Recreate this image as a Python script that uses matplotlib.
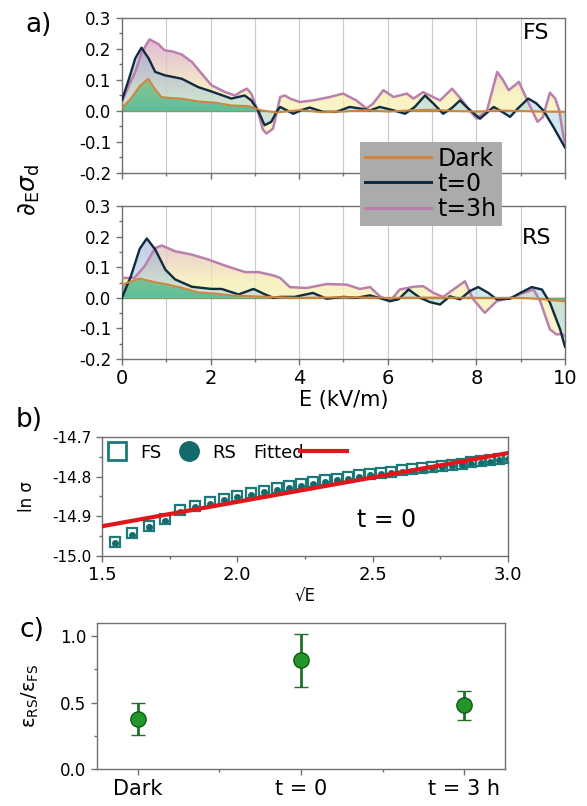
import numpy as np
import matplotlib
matplotlib.use("Agg")
import matplotlib.pyplot as plt
from matplotlib.colors import LinearSegmentedColormap
from matplotlib.lines import Line2D

plt.rcParams['font.family'] = ['DejaVu Sans']
plt.rcParams['axes.unicode_minus'] = False
plt.rcParams['mathtext.fontset'] = 'dejavusans'

# ---- panel a data ----
fs_3h_E = [0.0, 0.15, 0.3, 0.45, 0.62, 0.81, 0.96, 1.14, 1.35, 1.58, 1.8, 2.02, 2.33, 2.55,
           2.72, 2.82, 2.92, 3.07, 3.18, 3.26, 3.41, 3.5, 3.57, 3.68, 3.79, 4.01, 4.31, 4.69,
           4.99, 5.29, 5.52, 5.67, 5.9, 6.13, 6.43, 6.58, 6.8, 6.95, 7.18, 7.45, 7.68, 7.85,
           8.01, 8.24, 8.47, 8.6, 8.73, 8.96, 9.15, 9.38, 9.5, 9.66, 9.78, 9.87, 9.95, 10.0]
fs_3h = [0.03, 0.08, 0.126, 0.19, 0.231, 0.217, 0.196, 0.192, 0.182, 0.158, 0.12, 0.083, 0.061, 0.05,
         0.065, 0.072, 0.056, -0.003, -0.06, -0.073, -0.057, 0.0, 0.045, 0.05, 0.04, 0.029, 0.034, 0.045,
         0.056, 0.034, 0.008, 0.024, 0.067, 0.045, 0.056, 0.04, 0.061, 0.05, 0.034, 0.072, 0.034, 0.0,
         -0.025, 0.002, 0.126, 0.1, 0.067, 0.094, 0.034, -0.035, -0.02, 0.059, 0.04, 0.002, -0.07, -0.105]

fs_t0_E = [0.0, 0.15, 0.3, 0.44, 0.6, 0.75, 0.97, 1.35, 1.72, 2.02, 2.47, 2.77, 2.92, 3.07, 3.22,
           3.37, 3.5, 3.57, 3.68, 3.87, 4.05, 4.24, 4.54, 4.84, 5.14, 5.37, 5.6, 5.82, 6.13, 6.39,
           6.61, 6.84, 7.03, 7.25, 7.45, 7.63, 7.78, 8.08, 8.39, 8.55, 8.76, 8.95, 9.17, 9.35,
           9.51, 9.74, 9.87, 10.0]
fs_t0 = [0.035, 0.1, 0.17, 0.204, 0.17, 0.126, 0.115, 0.104, 0.077, 0.063, 0.04, 0.05, 0.034, 0.002, -0.046,
         -0.035, 0.0, 0.013, 0.005, -0.009, 0.003, 0.011, -0.003, -0.003, 0.013, 0.008, 0.002, 0.013, 0.002, -0.009,
         0.013, 0.05, 0.024, -0.009, 0.01, 0.034, 0.013, -0.025, 0.013, 0.0, -0.019, 0.01, 0.04, 0.025,
         0.002, -0.052, -0.085, -0.118]

fs_dark_E = [0.0, 0.2, 0.4, 0.59, 0.75, 0.89, 1.1, 1.35, 1.72, 2.1, 2.47, 2.85, 3.15, 3.5, 4.0,
             4.5, 5.0, 5.5, 6.0, 6.5, 7.0, 7.5, 8.0, 8.5, 9.0, 9.5, 10.0]
fs_dark = [0.01, 0.04, 0.08, 0.104, 0.07, 0.045, 0.042, 0.04, 0.031, 0.027, 0.018, 0.016, 0.002, -0.005, 0.003,
           -0.004, -0.002, 0.003, -0.002, 0.002, 0.004, 0.0, -0.002, 0.002, 0.0, -0.002, -0.003]

rs_3h_E = [0.0, 0.28, 0.51, 0.75, 0.9, 1.2, 1.58, 1.95, 2.33, 2.78, 3.08, 3.42, 3.57, 3.79, 4.17,
           4.62, 5.07, 5.37, 5.6, 5.82, 6.05, 6.27, 6.58, 6.8, 7.03, 7.25, 7.48, 7.74, 7.93, 8.19,
           8.46, 8.76, 9.06, 9.29, 9.44, 9.66, 9.81, 9.92, 10.0]
rs_3h = [0.065, 0.065, 0.103, 0.163, 0.171, 0.152, 0.141, 0.125, 0.105, 0.084, 0.084, 0.073, 0.065, 0.035, 0.032,
         0.045, 0.043, 0.029, 0.035, 0.005, -0.011, 0.027, 0.036, 0.038, 0.016, 0.003, 0.027, 0.054, -0.005, -0.049,
         -0.011, 0.0, 0.016, 0.027, -0.011, -0.103, -0.12, -0.118, -0.125]

rs_t0_E = [0.0, 0.2, 0.4, 0.56, 0.75, 0.98, 1.2, 1.58, 2.02, 2.25, 2.63, 2.97, 3.23, 3.42, 3.57,
           3.9, 4.31, 4.62, 5.0, 5.3, 5.6, 6.05, 6.24, 6.47, 6.73, 6.95, 7.18, 7.4, 7.63, 7.85,
           8.04, 8.27, 8.46, 8.76, 8.99, 9.25, 9.48, 9.66, 9.89, 10.0]
rs_t0 = [0.0, 0.07, 0.16, 0.194, 0.158, 0.092, 0.06, 0.036, 0.029, 0.029, 0.011, 0.029, 0.011, 0.0, 0.003,
         0.003, 0.016, -0.003, 0.003, 0.0, 0.008, -0.011, -0.005, 0.027, 0.0, -0.014, -0.022, 0.005, -0.005, 0.022,
         0.035, 0.016, -0.005, -0.003, 0.016, 0.035, 0.027, -0.016, -0.103, -0.16]

rs_dark_E = [0.0, 0.4, 0.75, 1.05, 1.35, 1.72, 2.1, 2.47, 3.0, 3.5, 4.0, 5.0, 6.0, 7.0, 8.0, 9.0, 9.5, 10.0]
rs_dark = [0.043, 0.063, 0.051, 0.043, 0.033, 0.018, 0.014, 0.008, 0.005, 0.002, 0.0, 0.002, 0.0, 0.001, 0.0,
           0.0, -0.005, -0.012]

# ---- panel b data ----
E_b = [2.4, 2.6, 2.8, 3.0, 3.2, 3.4, 3.6, 3.8, 4.0, 4.2, 4.4, 4.6, 4.8, 5.0, 5.2, 5.4, 5.6,
       5.8, 6.0, 6.2, 6.4, 6.6, 6.8, 7.0, 7.2, 7.4, 7.6, 7.8, 8.0, 8.2, 8.4, 8.6, 8.8, 9.0]
ln_fs = [-14.964, -14.943, -14.924, -14.908, -14.885, -14.873, -14.864, -14.856, -14.848, -14.841,
         -14.835, -14.829, -14.824, -14.819, -14.814, -14.809, -14.805, -14.801, -14.797, -14.793,
         -14.790, -14.787, -14.784, -14.781, -14.778, -14.775, -14.772, -14.770, -14.767, -14.764,
         -14.761, -14.758, -14.755, -14.752]
ln_rs = [-14.968, -14.947, -14.928, -14.912, -14.889, -14.877, -14.868, -14.860, -14.852, -14.845,
         -14.839, -14.833, -14.828, -14.823, -14.818, -14.813, -14.809, -14.805, -14.801, -14.797,
         -14.794, -14.791, -14.788, -14.785, -14.782, -14.779, -14.776, -14.774, -14.771, -14.768,
         -14.765, -14.762, -14.759, -14.756]
fit_slope = 0.123
fit_intercept = -15.1095
fit_range = [1.5, 3.0]

# ---- panel c data ----
cats = ['Dark', 't = 0', 't = 3 h']
ratio = [0.38, 0.82, 0.48]
ratio_err = [0.12, 0.20, 0.11]

# ---- styling ----
c_dark = '#d0843e'
c_t0 = '#102a3e'
c_3h = '#bb7fae'
spine_c = '#707070'

cm_3h = LinearSegmentedColormap.from_list('f3h', [(0, '#fbf6c4'), (0.5, '#f7efb0'), (0.86, '#d6a6c8'), (1, '#d6a6c8')])
cm_t0 = LinearSegmentedColormap.from_list('ft0', [(0, '#9fd6e8'), (0.45, '#a6d2e2'), (0.8, '#8a96cc'), (1, '#8a96cc')])
cm_dk = LinearSegmentedColormap.from_list('fdk', [(0, '#40b48c'), (0.4, '#38b28a'), (0.62, '#7cc07a'), (1, '#7cc07a')])


def grad_fill(ax, x, y, cmap, alpha):
    poly = ax.fill_between(x, y, 0, facecolor='none', edgecolor='none')
    grad = np.linspace(0, 1, 256).reshape(-1, 1)
    im = ax.imshow(grad, aspect='auto', cmap=cmap, alpha=alpha, origin='lower',
                   extent=[0, 10, -0.2, 0.3], zorder=1, interpolation='bilinear')
    im.set_clip_path(poly.get_paths()[0], transform=ax.transData)


def style_ax(ax):
    for s in ax.spines.values():
        s.set_color(spine_c)
        s.set_linewidth(1.0)
    ax.tick_params(which='both', direction='out', color=spine_c, width=1.0)
    ax.tick_params(which='major', length=4)
    ax.tick_params(which='minor', length=2.5)


fig = plt.figure(figsize=(5.87, 8.06), dpi=100)

ax1 = fig.add_axes([0.2078, 0.7854, 0.7547, 0.1923])
ax2 = fig.add_axes([0.2078, 0.5546, 0.7547, 0.1898])

panels = [(ax1, fs_dark_E, fs_dark, fs_t0_E, fs_t0, fs_3h_E, fs_3h, 'FS', 0.90),
          (ax2, rs_dark_E, rs_dark, rs_t0_E, rs_t0, rs_3h_E, rs_3h, 'RS', 0.79)]
for ax, dE, d, tE, t, hE, h, lab, ly in panels:
    ax.set_xlim(0, 10)
    ax.set_ylim(-0.2, 0.3)
    for g in range(1, 10):
        ax.axvline(g, color='#c8c8c8', lw=0.8, zorder=0)
    grad_fill(ax, hE, h, cm_3h, 0.75)
    grad_fill(ax, tE, t, cm_t0, 0.5)
    grad_fill(ax, dE, d, cm_dk, 0.75)
    ax.axhline(0, color='#8a9a60', lw=1.0, zorder=2)
    ax.plot(hE, h, color=c_3h, lw=1.8, zorder=3)
    ax.plot(tE, t, color=c_t0, lw=1.7, zorder=4)
    ax.plot(dE, d, color=c_dark, lw=1.4, zorder=5)
    ax.set_yticks([-0.2, -0.1, 0.0, 0.1, 0.2, 0.3])
    ax.set_yticks(np.arange(-0.15, 0.3, 0.1), minor=True)
    ax.set_xticks([0, 2, 4, 6, 8, 10])
    ax.set_xticks([1, 3, 5, 7, 9], minor=True)
    ax.yaxis.set_major_formatter(matplotlib.ticker.FormatStrFormatter('%.1f'))
    ax.tick_params(axis='y', labelsize=12)
    ax.tick_params(axis='x', labelsize=14)
    ax.text(0.935, ly, lab, transform=ax.transAxes, fontsize=16, ha='center', va='center', zorder=6)
    style_ax(ax)

ax1.tick_params(axis='x', labelbottom=False)
ax2.set_xlabel('E (kV/m)', fontsize=15, labelpad=1)
fig.text(0.05, 0.765, r'$\partial_{\rm E}\sigma_{\rm d}$', rotation=90, fontsize=18,
         ha='center', va='center')

handles = [Line2D([], [], color=c_dark, lw=2.2), Line2D([], [], color=c_t0, lw=2.2),
           Line2D([], [], color=c_3h, lw=2.2)]
leg = fig.legend(handles, ['Dark', 't=0', 't=3h'], loc='upper left', bbox_to_anchor=(0.613, 0.824),
                 fontsize=17, frameon=True, facecolor='#ababab', edgecolor='none', framealpha=1,
                 fancybox=False, handlelength=2.8, labelspacing=0.05, borderpad=0.2,
                 handletextpad=0.3, borderaxespad=0)

# ---- panel b ----
ax3 = fig.add_axes([0.1738, 0.3102, 0.6917, 0.1476])
sq_E = np.sqrt(E_b)
ax3.plot(sq_E, ln_rs, 'o', color='#14696b', ms=4, zorder=2, label='RS')
ax3.plot(sq_E, ln_fs, 's', mfc='none', mec='#1d7a78', mew=1.6, ms=7.5, zorder=3, label='FS')
xf = np.array(fit_range)
ax3.plot(xf, fit_intercept + fit_slope * xf, color='#e0161a', lw=3, zorder=4)
ax3.set_xlim(1.5, 3.0)
ax3.set_ylim(-15.0, -14.7)
ax3.set_xticks([1.5, 2.0, 2.5, 3.0])
ax3.set_xticks([1.75, 2.25, 2.75], minor=True)
ax3.set_yticks([-15.0, -14.9, -14.8, -14.7])
ax3.set_yticks([-14.95, -14.85, -14.75], minor=True)
ax3.yaxis.set_major_formatter(matplotlib.ticker.FormatStrFormatter('%.1f'))
ax3.tick_params(axis='y', labelsize=11)
ax3.tick_params(axis='x', labelsize=13)
ax3.set_xlabel('√E', fontsize=12, labelpad=2)
ax3.set_ylabel('ln σ', fontsize=12, labelpad=12)
style_ax(ax3)
lh1 = [Line2D([], [], marker='s', ls='none', mfc='none', mec='#1d7a78', mew=2, ms=13),
       Line2D([], [], marker='o', ls='none', color='#14696b', ms=14)]
l1 = ax3.legend(lh1, ['FS', 'RS'], loc='upper left', bbox_to_anchor=(-0.03, 1.02), ncol=2, frameon=False,
                fontsize=13, handletextpad=0.3, columnspacing=0.5, borderaxespad=0.1)
ax3.add_artist(l1)
ax3.legend([Line2D([], [], color='#e0161a', lw=3)], ['Fitted'], loc='upper left',
           bbox_to_anchor=(0.35, 1.02), frameon=False, fontsize=13, markerfirst=False,
           handlelength=2.6, handletextpad=-0.2, borderaxespad=0.1)
ax3.text(0.70, 0.30, 't = 0', transform=ax3.transAxes, fontsize=17, ha='center', va='center')

# ---- panel c ----
ax4 = fig.add_axes([0.1652, 0.0459, 0.695, 0.1811])
xc = np.arange(len(cats))
ax4.errorbar(xc, ratio, yerr=ratio_err, fmt='o', color='#1f6f2a', ecolor='#1f6f2a', elinewidth=2,
             capsize=5, capthick=2, mfc='#23962a', mec='#0e5a14', ms=11, mew=1)
ax4.set_xlim(-0.25, 2.25)
ax4.set_ylim(0, 1.1)
ax4.set_xticks(xc)
ax4.set_xticklabels(cats)
ax4.set_xticks([0.5, 1.5], minor=True)
ax4.set_yticks([0.0, 0.5, 1.0])
ax4.set_yticks([0.25, 0.75], minor=True)
ax4.yaxis.set_major_formatter(matplotlib.ticker.FormatStrFormatter('%.1f'))
ax4.tick_params(axis='y', labelsize=12)
ax4.tick_params(axis='x', labelsize=15)
ax4.set_ylabel(r'ε$_{\rm RS}$/ε$_{\rm FS}$', fontsize=14, labelpad=14)
style_ax(ax4)

fig.text(0.066, 0.969, 'a)', fontsize=19, ha='center', va='center')
fig.text(0.05, 0.479, 'b)', fontsize=19, ha='center', va='center')
fig.text(0.055, 0.218, 'c)', fontsize=19, ha='center', va='center')

fig.savefig('out.png', dpi=100)
